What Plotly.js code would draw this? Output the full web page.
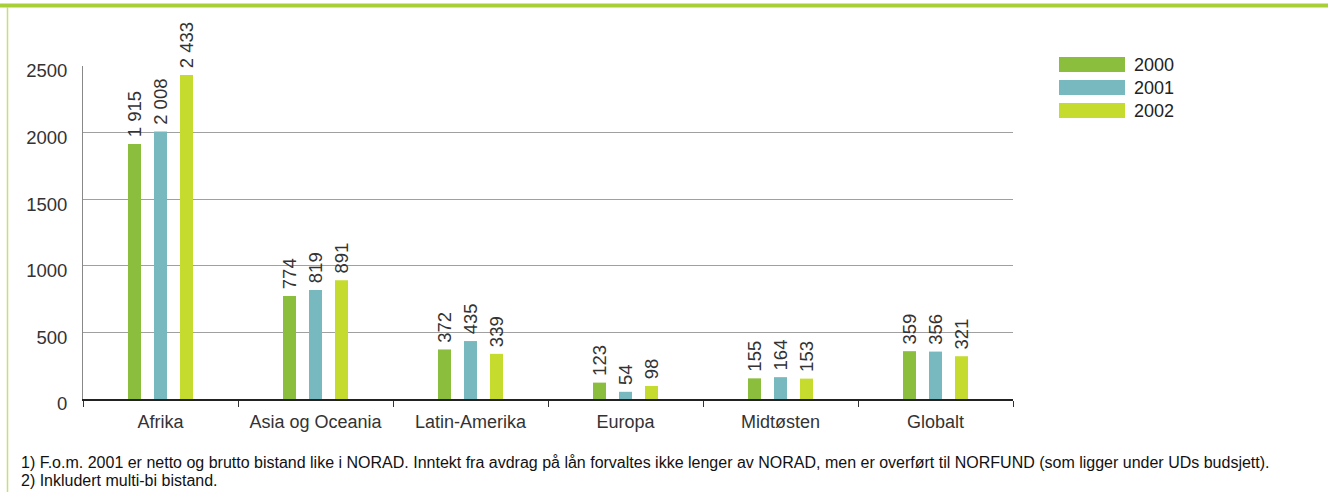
<!DOCTYPE html>
<html><head><meta charset="utf-8">
<script src="https://cdn.plot.ly/plotly-3.0.1.min.js"></script>
<style>html,body{margin:0;padding:0;background:#fff}#c{width:1328px;height:492px}</style>
</head><body><div id="c"></div>
<script>
const categories = ["Afrika", "Asia og Oceania", "Latin-Amerika", "Europa", "Midtøsten", "Globalt"];
const years = ["2000", "2001", "2002"];
const values2000 = [1915, 774, 372, 123, 155, 359];
const values2001 = [2008, 819, 435, 54, 164, 356];
const values2002 = [2433, 891, 339, 98, 153, 321];
const yTicks = [0, 500, 1000, 1500, 2000, 2500];
const footnotes = [
  "1) F.o.m. 2001 er netto og brutto bistand like i NORAD. Inntekt fra avdrag på lån forvaltes ikke lenger av NORAD, men er overført til NORFUND (som ligger under UDs budsjett).",
  "2) Inkludert multi-bi bistand."
];
const colors = ["#8bbe3c", "#77b9be", "#c5db2e"];
const series = [values2000, values2001, values2002];

const W = 1328, H = 492;
const m = {l: 83, r: 315, t: 66, b: 93};
const pw = W - m.l - m.r, ph = H - m.t - m.b;
const px = x => (x - m.l) / pw;
const py = y => (H - m.b - y) / ph;

const font = "Liberation Sans, Arial, Helvetica, sans-serif";
const traces = series.map((v, i) => ({
  type: "bar", name: years[i], x: categories, y: v,
  marker: {color: colors[i]},
  text: v, texttemplate: "\u2009%{y:,}", textposition: "outside", textangle: -90,
  constraintext: "none",
  textfont: {family: font, size: 18.5, color: "#333"},
  cliponaxis: false, showlegend: false, hoverinfo: "skip"
}));

const shapes = [
  {type: "line", xref: "paper", yref: "paper", x0: px(0), x1: px(W), y0: py(5.5), y1: py(5.5), line: {color: "#a9cf38", width: 4}},
  {type: "line", xref: "paper", yref: "paper", x0: px(7.5), x1: px(7.5), y0: py(7), y1: py(H), line: {color: "#c5e07a", width: 1.5}}
];
const annotations = [];
years.forEach((yr, i) => {
  const top = 57 + i * 23;
  shapes.push({type: "rect", xref: "paper", yref: "paper", x0: px(1059), x1: px(1125), y0: py(top), y1: py(top + 15), fillcolor: colors[i], line: {width: 0}});
  annotations.push({xref: "paper", yref: "paper", x: px(1132), y: py(top + 8), xanchor: "left", yanchor: "middle", showarrow: false, text: yr, font: {family: font, size: 18, color: "#222"}});
});
footnotes.forEach((t, i) => {
  annotations.push({xref: "paper", yref: "paper", x: px(19), y: py(462 + i * 18), xanchor: "left", yanchor: "middle", showarrow: false, text: t, font: {family: font, size: 16, color: "#111"}});
});

const layout = {
  width: W, height: H, margin: m, paper_bgcolor: "#fff", plot_bgcolor: "#fff",
  separators: ", ",
  barmode: "group", bargap: 0.497, bargroupgap: 0.5,
  showlegend: false,
  xaxis: {type: "category", tickson: "boundaries", ticks: "outside", ticklen: 6, tickcolor: "#333",
    showline: true, linecolor: "#222", linewidth: 1.5, showgrid: false, ticklabelstandoff: 6,
    tickfont: {family: font, size: 18, color: "#333"}, fixedrange: true},
  yaxis: {range: [0, 2500], tickvals: yTicks, ticktext: yTicks.map(String),
    showgrid: true, gridcolor: "#a0a0a0", gridwidth: 1, zeroline: false,
    showline: true, linecolor: "#888", linewidth: 1,
    ticklabelstandoff: 11, ticklabelshift: 5,
    tickfont: {family: font, size: 18.5, color: "#333"}, fixedrange: true},
  shapes, annotations
};
Plotly.newPlot("c", traces, layout, {displayModeBar: false, staticPlot: true});
</script></body></html>
